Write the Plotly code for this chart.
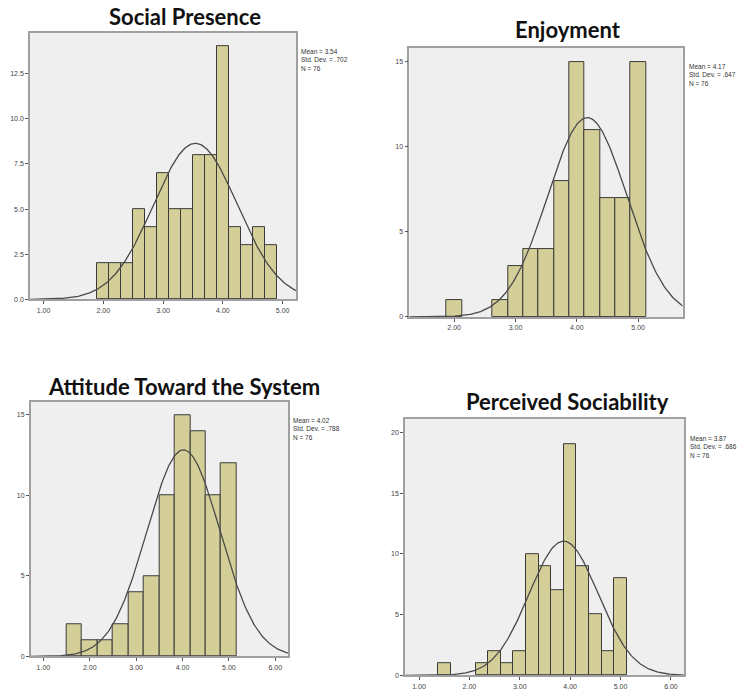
import numpy as np
import plotly.graph_objects as go

# ---- data: histogram bins (centres), counts and summary statistics ----
sp_bins = [2.0, 2.2, 2.4, 2.6, 2.8, 3.0, 3.2, 3.4, 3.6, 3.8, 4.0, 4.2, 4.4, 4.6, 4.8]
sp_counts = [2, 2, 2, 5, 4, 7, 5, 5, 8, 8, 14, 4, 3, 4, 3]
sp_stats = dict(mean=3.54, sd=0.702, n=76, sd_label=".702")

en_bins = [2.0, 2.75, 3.0, 3.25, 3.5, 3.75, 4.0, 4.25, 4.5, 4.75, 5.0]
en_counts = [1, 1, 3, 4, 4, 8, 15, 11, 7, 7, 15]
en_stats = dict(mean=4.17, sd=0.647, n=76, sd_label=".647")

at_bins = [1.6667, 2.0, 2.3333, 2.6667, 3.0, 3.3333, 3.6667, 4.0, 4.3333, 4.6667, 5.0]
at_counts = [2, 1, 1, 2, 4, 5, 10, 15, 14, 10, 12]
at_stats = dict(mean=4.02, sd=0.788, n=76, sd_label=".788")

ps_bins = [1.5, 2.25, 2.5, 2.75, 3.0, 3.25, 3.5, 3.75, 4.0, 4.25, 4.5, 4.75, 5.0]
ps_counts = [1, 1, 2, 1, 2, 10, 9, 7, 19, 9, 5, 2, 8]
ps_stats = dict(mean=3.87, sd=0.686, n=76, sd_label=".686")

titles = ["Social Presence", "Enjoyment", "Attitude Toward the System", "Perceived Sociability"]
bin_widths = [0.2, 0.25, 1 / 3, 0.25]
x_ticks = [[1, 2, 3, 4, 5], [2, 3, 4, 5], [1, 2, 3, 4, 5, 6], [1, 2, 3, 4, 5, 6]]
y_ticks = [[0, 2.5, 5, 7.5, 10, 12.5], [0, 5, 10, 15], [0, 5, 10, 15], [0, 5, 10, 15, 20]]

# ---- layout of the four panels (pixel positions converted to paper coords) ----
W, H = 741, 693
panels = [
    dict(px=(30, 296), py=(33.3, 300.7), xr=(0.773, 5.223), yr=(0, 14.74), fmt=".1f",
         title_xy=(185, 17), stats_xy=(299, 46)),
    dict(px=(409.3, 682.7), py=(48.3, 318.3), xr=(1.269, 5.726), yr=(0, 15.8), fmt="d",
         title_xy=(568, 30), stats_xy=(687, 61)),
    dict(px=(30.7, 288.3), py=(404, 659.3), xr=(0.727, 6.28), yr=(0, 15.78), fmt="d",
         title_xy=(184, 388), stats_xy=(291, 417)),
    dict(px=(405, 684.3), py=(421, 678.3), xr=(0.722, 6.265), yr=(0, 21.09), fmt="d",
         title_xy=(567, 403), stats_xy=(688, 435)),
]

series = [
    (sp_bins, sp_counts, sp_stats),
    (en_bins, en_counts, en_stats),
    (at_bins, at_counts, at_stats),
    (ps_bins, ps_counts, ps_stats),
]

BAR_FILL = "#d4cf98"
BAR_LINE = "#3a3a3a"
PLOT_BG = "#efefef"
FRAME = "#a0a0a0"
TICK_FONT = dict(family="Liberation Sans, Arial, sans-serif", size=7, color="#444444")

fig = go.Figure()
annotations = []

for i, (p, (bins, counts, st)) in enumerate(zip(panels, series)):
    k = "" if i == 0 else str(i + 1)
    xa, ya = "x" + k, "y" + k
    w = bin_widths[i]

    fig.add_trace(go.Bar(
        x=bins, y=counts, width=w, xaxis=xa, yaxis=ya,
        marker=dict(color=BAR_FILL, line=dict(color=BAR_LINE, width=1)),
        showlegend=False, hoverinfo="x+y",
    ))

    # fitted normal curve scaled to counts
    xs = np.linspace(p["xr"][0], p["xr"][1], 300)
    ys = st["n"] * w / (st["sd"] * np.sqrt(2 * np.pi)) * np.exp(-0.5 * ((xs - st["mean"]) / st["sd"]) ** 2)
    fig.add_trace(go.Scatter(
        x=xs, y=ys, mode="lines", xaxis=xa, yaxis=ya,
        line=dict(color="#4a4a4a", width=1.3), showlegend=False, hoverinfo="skip",
    ))

    xdom = [p["px"][0] / W, p["px"][1] / W]
    ydom = [1 - p["py"][1] / H, 1 - p["py"][0] / H]
    common = dict(showgrid=False, zeroline=False, showline=True, mirror=True,
                  linecolor=FRAME, linewidth=1.5, ticks="outside", ticklen=3,
                  tickcolor="#555555", tickwidth=1, tickfont=TICK_FONT)
    fig.update_layout(**{
        "xaxis" + k: dict(domain=xdom, range=list(p["xr"]), tickvals=x_ticks[i],
                          tickformat=".2f", anchor=ya, fixedrange=True, **common),
        "yaxis" + k: dict(domain=ydom, range=list(p["yr"]), tickvals=y_ticks[i],
                          tickformat=p["fmt"], anchor=xa, fixedrange=True, **common),
    })

    tx, ty = p["title_xy"]
    annotations.append(dict(
        text="<b>" + titles[i] + "</b>", x=tx / W, y=1 - ty / H, xref="paper", yref="paper",
        xanchor="center", yanchor="middle", showarrow=False,
        font=dict(family="Lato, Carlito, sans-serif", size=22, color="#111111"),
    ))

    sx, sy = p["stats_xy"]
    stats_text = "Mean = %.2f<br>Std. Dev. = %s<br>N = %d" % (st["mean"], st["sd_label"], st["n"])
    annotations.append(dict(
        text=stats_text, x=sx / W, y=1 - sy / H, xref="paper", yref="paper",
        xanchor="left", yanchor="top", align="left", showarrow=False,
        font=dict(family="Liberation Sans, Arial, sans-serif", size=6.5, color="#333333"),
    ))

fig.update_layout(
    width=W, height=H, margin=dict(l=0, r=0, t=0, b=0),
    paper_bgcolor="white", plot_bgcolor=PLOT_BG, bargap=0,
    annotations=annotations,
)

fig.write_html("out.html")
